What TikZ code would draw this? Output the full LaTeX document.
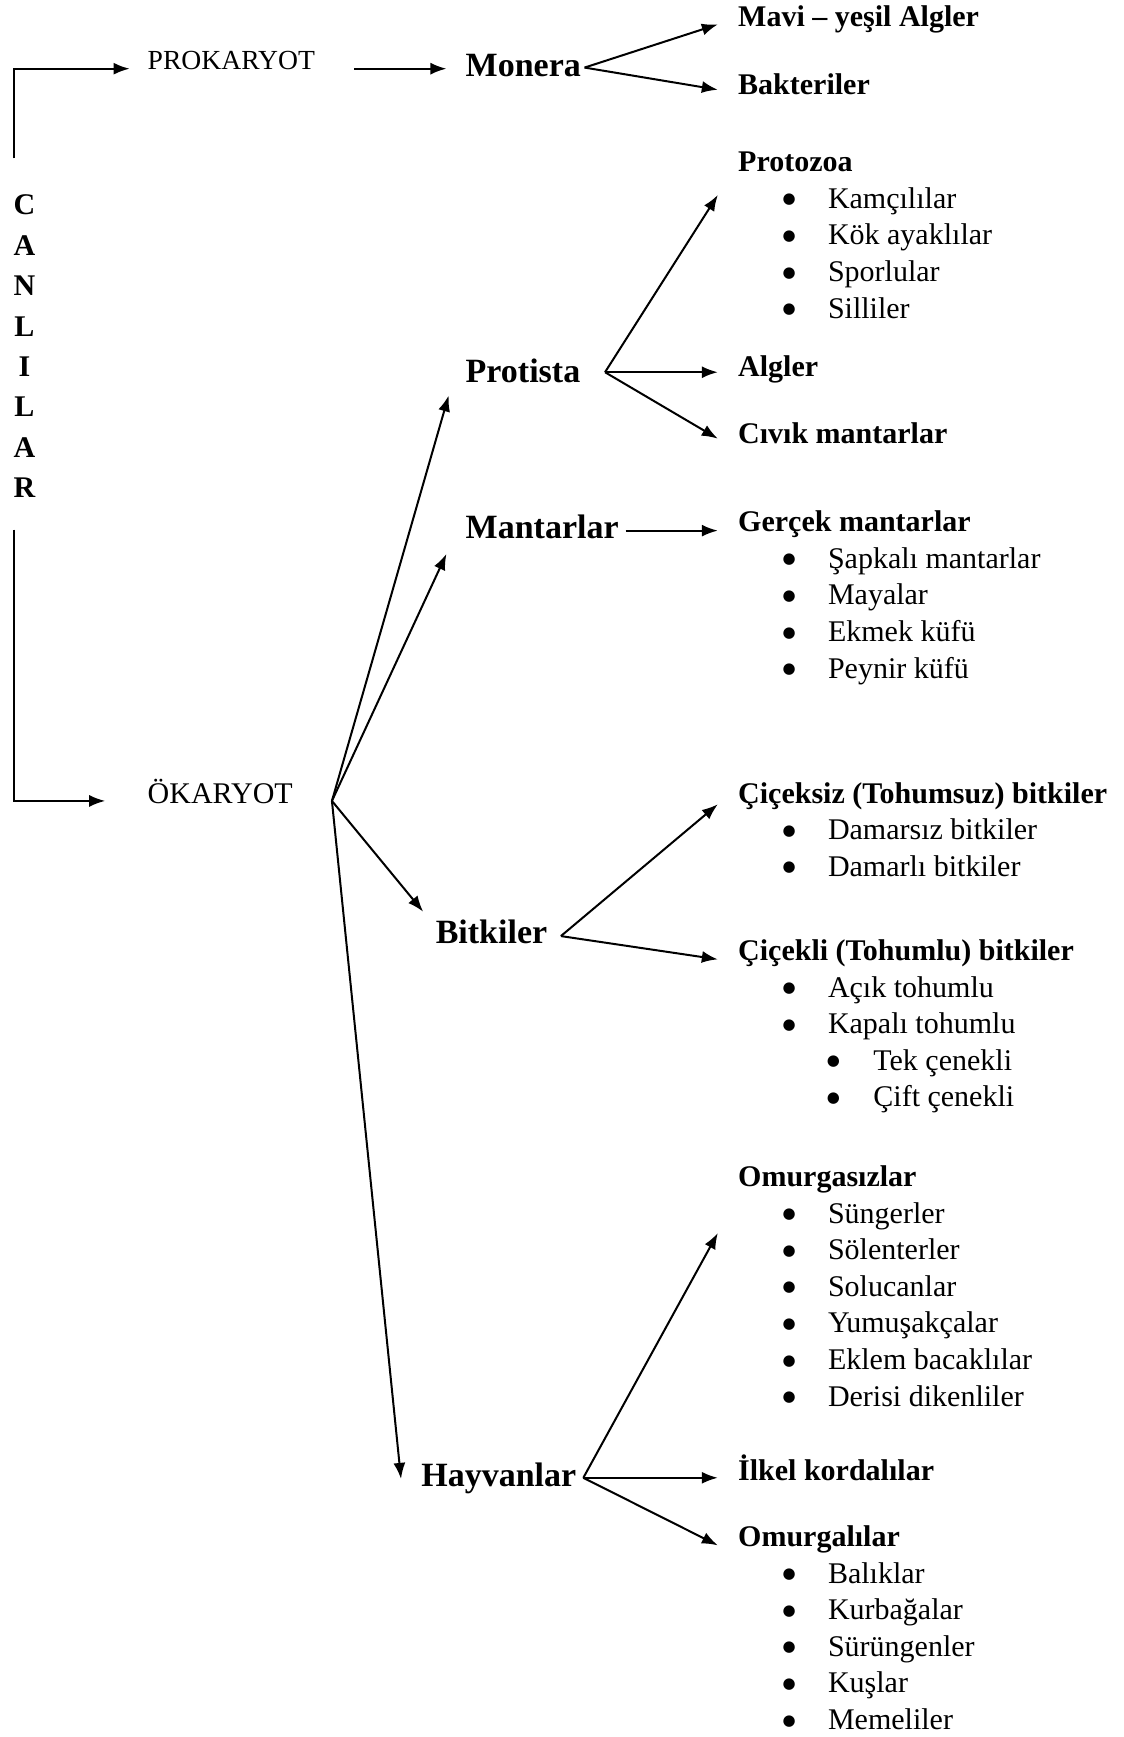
\documentclass[tikz,border=0pt]{standalone}
\usepackage{fontspec}
\setmainfont{Liberation Serif}
\newfontfamily\dotfont{DejaVu Sans}
\usetikzlibrary{arrows.meta}

\newcommand{\blt}{\makebox[10pt][c]{\raisebox{2.2pt}{\dotfont\fontsize{7.5}{7.5}\selectfont ●}}}
\newcommand{\itm}[1]{\hspace*{20.5pt}\blt\hspace*{14.4pt}#1}
\newcommand{\itmm}[1]{\hspace*{42.6pt}\blt\hspace*{15pt}#1}

\begin{document}
\begin{tikzpicture}[
    x=0.5538pt, y=-0.5538pt,
    >={Latex[length=8pt,width=6pt]},
    every node/.style={inner sep=0pt, anchor=base west},
    kingdom/.style={font=\bfseries\fontsize{17}{20}\selectfont},
    head/.style={font=\bfseries\fontsize{15}{18.3}\selectfont},
    group/.style={font=\fontsize{15}{18.3}\selectfont},
    link/.style={->, line width=1pt}
  ]
  \path[use as bounding box, fill=white] (0,0) rectangle (1014,1568);

  % the two domains
  \node [anchor=base, font=\bfseries\fontsize{15}{20.2}\selectfont] (canlilar) at (22,194)
  {\begin{tabular}[t]{@{}c@{}}C\\A\\N\\L\\I\\L\\A\\R\end{tabular}};
  \node [font=\fontsize{13.8}{16}\selectfont] (prok) at (133,63) {PROKARYOT};
  \node [font=\fontsize{15}{18}\selectfont] (okar) at (133,725) {ÖKARYOT};
  \coordinate (ctop) at (13,143);
  \coordinate (cbot) at (13,478);

  % kingdoms
  \node [kingdom] (monera) at (420,69) {Monera};
  \node [kingdom] (protista) at (420,345) {Protista};
  \node [kingdom] (mantar) at (420,486) {Mantarlar};
  \node [kingdom] (bitki) at (393,852) {Bitkiler};
  \node [kingdom] (hayvan) at (380,1342) {Hayvanlar};

  % groups
  \node [head] (mavi) at (666,24) {Mavi – yeşil Algler};
  \node [head] (bakteri) at (666,85) {Bakteriler};
  \node [group] (protozoa) at (666,155)
  {\begin{tabular}[t]{@{}l@{}}
    \textbf{Protozoa}\\
    \itm{Kamçılılar}\\
    \itm{Kök ayaklılar}\\
    \itm{Sporlular}\\
    \itm{Silliler}
  \end{tabular}};
  \node [head] (algler) at (666,340) {Algler};
  \node [head] (civik) at (666,400) {Cıvık mantarlar};
  \node [group] (gercek) at (666,480)
  {\begin{tabular}[t]{@{}l@{}}
    \textbf{Gerçek mantarlar}\\
    \itm{Şapkalı mantarlar}\\
    \itm{Mayalar}\\
    \itm{Ekmek küfü}\\
    \itm{Peynir küfü}
  \end{tabular}};
  \node [group] (ciceksiz) at (666,725)
  {\begin{tabular}[t]{@{}l@{}}
    \textbf{Çiçeksiz (Tohumsuz) bitkiler}\\
    \itm{Damarsız bitkiler}\\
    \itm{Damarlı bitkiler}
  \end{tabular}};
  \node [group] (cicekli) at (666,867)
  {\begin{tabular}[t]{@{}l@{}}
    \textbf{Çiçekli (Tohumlu) bitkiler}\\
    \itm{Açık tohumlu}\\
    \itm{Kapalı tohumlu}\\
    \itmm{Tek çenekli}\\
    \itmm{Çift çenekli}
  \end{tabular}};
  \node [group] (omurgasiz) at (666,1071)
  {\begin{tabular}[t]{@{}l@{}}
    \textbf{Omurgasızlar}\\
    \itm{Süngerler}\\
    \itm{Sölenterler}\\
    \itm{Solucanlar}\\
    \itm{Yumuşakçalar}\\
    \itm{Eklem bacaklılar}\\
    \itm{Derisi dikenliler}
  \end{tabular}};
  \node [head] (ilkel) at (666,1336) {İlkel kordalılar};
  \node [group] (omurgali) at (666,1396)
  {\begin{tabular}[t]{@{}l@{}}
    \textbf{Omurgalılar}\\
    \itm{Balıklar}\\
    \itm{Kurbağalar}\\
    \itm{Sürüngenler}\\
    \itm{Kuşlar}\\
    \itm{Memeliler}
  \end{tabular}};

  % arrows
  \draw [link] (ctop) |- ([shift={(-16,-1)}]prok.base west);
  \draw [link] (cbot) |- ([shift={(-38,-2)}]okar.base west);
  \draw [link] ([shift={(35,-1)}]prok.base east) -- ([shift={(-17,-7)}]monera.base west);

  \coordinate (mon) at ([shift={(3,-8)}]monera.base east);
  \draw [link] (mon) -- ([shift={(-18,-2)}]mavi.base west);
  \draw [link] (mon) -- ([shift={(-18,-4)}]bakteri.base west);

  \coordinate (oka) at ([shift={(35,-2)}]okar.base east);
  \draw [link] (oka) -- ([shift={(-15,12)}]protista.base west);
  \draw [link] (oka) -- ([shift={(-17,14)}]mantar.base west);
  \draw [link] (oka) -- ([shift={(-11,-29)}]bitki.base west);
  \draw [link] (oka) -- ([shift={(-18,-7)}]hayvan.base west);

  \coordinate (pro) at ([shift={(22,-9)}]protista.base east);
  \draw [link] (pro) -- ([shift={(-18,21)}]protozoa.base west);
  \draw [link] (pro) -- ([shift={(-18,-4)}]algler.base west);
  \draw [link] (pro) -- ([shift={(-18,-4)}]civik.base west);

  \draw [link] ([shift={(6,-7)}]mantar.base east) -- ([shift={(-18,-1)}]gercek.base west);

  \coordinate (bit) at ([shift={(12,-7)}]bitki.base east);
  \draw [link] (bit) -- ([shift={(-18,1)}]ciceksiz.base west);
  \draw [link] (bit) -- ([shift={(-18,-1)}]cicekli.base west);

  \coordinate (hay) at ([shift={(6,-8)}]hayvan.base east);
  \draw [link] (hay) -- ([shift={(-18,42)}]omurgasiz.base west);
  \draw [link] (hay) -- ([shift={(-18,-2)}]ilkel.base west);
  \draw [link] (hay) -- ([shift={(-18,-1)}]omurgali.base west);
\end{tikzpicture}
\end{document}
